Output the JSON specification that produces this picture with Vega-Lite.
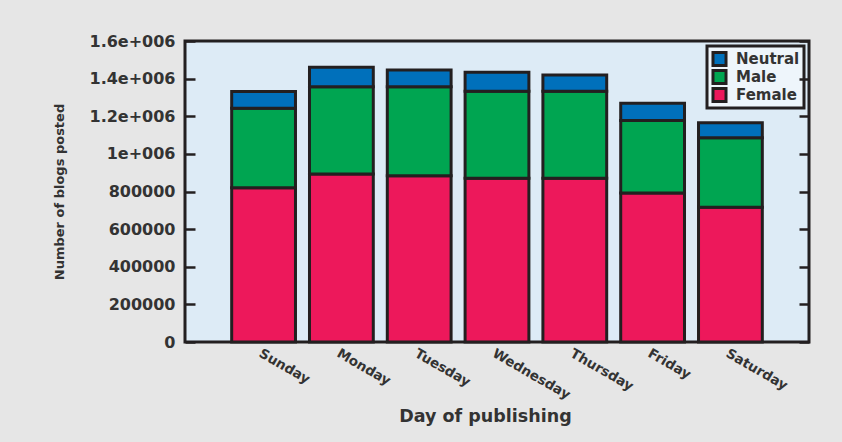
{
  "$schema": "https://vega.github.io/schema/vega-lite/v6.json",
  "width": 624,
  "height": 301,
  "autosize": "none",
  "padding": {"left": 185, "top": 41, "right": 33, "bottom": 100},
  "background": "#E6E6E6",
  "config": {
    "font": "DejaVu Sans",
    "view": {"fill": "#DDEBF6", "stroke": "#231F20", "strokeWidth": 3}
  },
  "data": {
    "values": [
      {"day": "Sunday", "sex": "Female", "count": 820000},
      {"day": "Sunday", "sex": "Male", "count": 422000},
      {"day": "Sunday", "sex": "Neutral", "count": 90000},
      {"day": "Monday", "sex": "Female", "count": 893000},
      {"day": "Monday", "sex": "Male", "count": 464000},
      {"day": "Monday", "sex": "Neutral", "count": 103000},
      {"day": "Tuesday", "sex": "Female", "count": 884000},
      {"day": "Tuesday", "sex": "Male", "count": 473000},
      {"day": "Tuesday", "sex": "Neutral", "count": 89000},
      {"day": "Wednesday", "sex": "Female", "count": 870000},
      {"day": "Wednesday", "sex": "Male", "count": 463000},
      {"day": "Wednesday", "sex": "Neutral", "count": 101000},
      {"day": "Thursday", "sex": "Female", "count": 870000},
      {"day": "Thursday", "sex": "Male", "count": 463000},
      {"day": "Thursday", "sex": "Neutral", "count": 86000},
      {"day": "Friday", "sex": "Female", "count": 792000},
      {"day": "Friday", "sex": "Male", "count": 385000},
      {"day": "Friday", "sex": "Neutral", "count": 92000},
      {"day": "Saturday", "sex": "Female", "count": 716000},
      {"day": "Saturday", "sex": "Male", "count": 370000},
      {"day": "Saturday", "sex": "Neutral", "count": 80000}
    ]
  },
  "layer": [
    {
      "mark": {"type": "bar", "stroke": "#231F20", "strokeWidth": 3},
      "encoding": {
        "x": {
          "field": "day",
          "type": "nominal",
          "sort": ["Sunday", "Monday", "Tuesday", "Wednesday", "Thursday", "Friday", "Saturday"],
          "scale": {"paddingInner": 0.18, "paddingOuter": 0.6},
          "axis": {
            "domain": false,
            "ticks": false,
            "labelAngle": 30,
            "labelFont": "DejaVu Sans",
            "labelFontWeight": "bold",
            "labelFontSize": 13.5,
            "labelColor": "#333333",
            "labelPadding": 4,
            "title": "Day of publishing",
            "titleFont": "DejaVu Sans",
            "titleFontWeight": "bold",
            "titleFontSize": 17.5,
            "titleColor": "#333333",
            "titlePadding": 6,
            "titleX": 300
          }
        },
        "y": {
          "field": "count",
          "type": "quantitative",
          "stack": "zero",
          "scale": {"domain": [0, 1600000], "nice": false},
          "axis": {
            "orient": "left",
            "zindex": 2,
            "values": [0, 200000, 400000, 600000, 800000, 1000000, 1200000, 1400000, 1600000],
            "format": "d",
            "labelExpr": "datum.value >= 1000000 ? (datum.value / 1000000) + 'e+006' : datum.label",
            "domain": false,
            "grid": false,
            "ticks": true,
            "tickSize": -10,
            "tickWidth": 2.5,
            "tickColor": "#231F20",
            "labelPadding": 20,
            "labelFont": "DejaVu Sans",
            "labelFontWeight": "bold",
            "labelFontSize": 16,
            "labelColor": "#333333",
            "title": "Number of blogs posted",
            "titleFont": "DejaVu Sans",
            "titleFontWeight": "bold",
            "titleFontSize": 13,
            "titleColor": "#333333",
            "titlePadding": 23
          }
        },
        "color": {
          "field": "sex",
          "type": "nominal",
          "scale": {
            "domain": ["Neutral", "Male", "Female"],
            "range": ["#0070BB", "#00A551", "#ED185B"]
          },
          "legend": {
            "title": null,
            "orient": "top-right",
            "offset": 5,
            "padding": 4,
            "fillColor": "#EEF5FB",
            "strokeColor": "#231F20",
            "symbolType": "square",
            "symbolSize": 170,
            "symbolStrokeColor": "#231F20",
            "symbolStrokeWidth": 3,
            "symbolOpacity": 1,
            "labelFont": "DejaVu Sans",
            "labelFontWeight": "bold",
            "labelFontSize": 15,
            "labelColor": "#333333",
            "labelOffset": 8,
            "rowPadding": 0,
            "clipHeight": 18,
            "encode": {
              "legend": {"update": {"strokeWidth": {"value": 3}}}
            }
          }
        },
        "order": {"field": "sex", "sort": "ascending"}
      }
    },
    {
      "mark": {"type": "tick", "opacity": 0},
      "encoding": {
        "y": {
          "field": "count",
          "type": "quantitative",
          "axis": {
            "orient": "right",
            "zindex": 2,
            "values": [0, 200000, 400000, 600000, 800000, 1000000, 1200000, 1400000, 1600000],
            "labels": false,
            "domain": false,
            "grid": false,
            "ticks": true,
            "offset": -10,
            "tickSize": 10,
            "tickWidth": 2.5,
            "tickColor": "#231F20",
            "title": null
          }
        }
      }
    }
  ],
  "resolve": {"axis": {"y": "independent"}}
}
